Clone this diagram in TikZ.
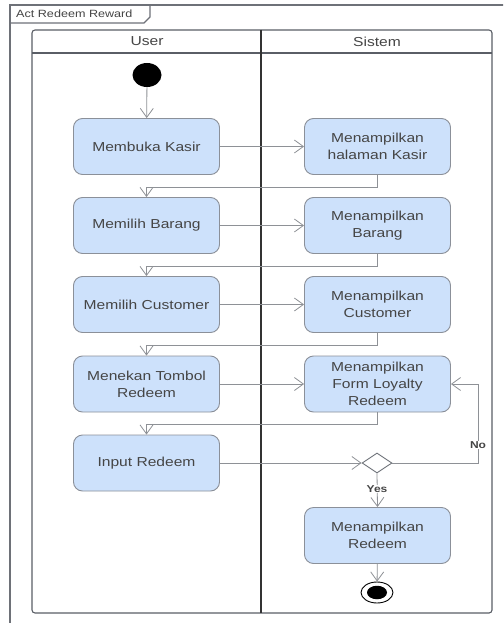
\documentclass[tikz,border=0pt]{standalone}
\usepackage{fontspec}
\setmainfont[FakeStretch=1.2]{Liberation Sans}
\usetikzlibrary{arrows.meta,shapes.geometric}
\definecolor{boxfill}{HTML}{CDE1FB}
\definecolor{boxline}{HTML}{8B9099}
\definecolor{lanecol}{HTML}{5A5E66}
\definecolor{framecol}{HTML}{6E7178}
\definecolor{flowcol}{HTML}{8E9196}
\definecolor{txt}{HTML}{454545}
\tikzset{
  act/.style={draw=boxline, fill=boxfill, rounded corners=9pt, line width=0.9pt,
    minimum width=146pt, minimum height=56pt, inner sep=0pt, align=center,
    text=txt, font=\fontsize{13}{16.8}\selectfont},
  flow/.style={draw=flowcol, line width=0.8pt, -{Straight Barb[length=9pt,width=13pt]}},
  lanehead/.style={text=txt, font=\fontsize{13}{15}\selectfont},
  guard/.style={fill=white, inner sep=1pt, text=txt, font=\bfseries\fontsize{10}{12}\selectfont}
}
\begin{document}
\begin{tikzpicture}[x=1pt,y=-1pt]
\useasboundingbox (0,0) rectangle (503,623);
\clip (0,0) rectangle (503,623);
\fill[white] (0,0) rectangle (503,623);

% diagram frame with its name tab
\draw[framecol, line width=1.2pt] (10,640) -- (10,5) -- (520,5);
\draw[framecol, line width=1.2pt] (10,23) -- (144,23) -- (150,17) -- (150,5);
\node[anchor=west, text=txt, font=\fontsize{10.5}{12}\selectfont, inner sep=0pt] (title) at (16,14) {Act Redeem Reward};

% swimlanes
\draw[lanecol, line width=1.1pt, rounded corners=3pt] (32,30) rectangle (492,613);
\draw[lanecol, line width=1.1pt] (32,53) -- (492,53);
\draw[black!80, line width=1.1pt] (261,30) -- (261,613);
\node[lanehead] (userlane) at (147,41.5) {User};
\node[lanehead] (syslane) at (377,41.5) {Sistem};

% activities
\node[ellipse, fill=black, minimum width=29pt, minimum height=24pt, inner sep=0pt] (start) at (147,75) {};
\node[act] (a1) at (146.5,146.5) {Membuka Kasir};
\node[act] (b1) at (377.5,146.5) {Menampilkan\\halaman Kasir};
\node[act] (a2) at (146.5,225.5) {Memilih Barang};
\node[act] (b2) at (377.5,225.5) {Menampilkan\\Barang};
\node[act] (a3) at (146.5,304.5) {Memilih Customer};
\node[act] (b3) at (377.5,304.5) {Menampilkan\\Customer};
\node[act] (a4) at (146.5,384) {Menekan Tombol\\Redeem};
\node[act] (b4) at (377.5,384) {Menampilkan\\Form Loyalty\\Redeem};
\node[act] (a5) at (146.5,463) {Input Redeem};
\node[diamond, draw=boxline!80!black, fill=white, line width=0.9pt, minimum width=30pt, minimum height=20pt, inner sep=0pt] (dec) at (377,463) {};
\node[act] (b5) at (377.5,535.5) {Menampilkan\\Redeem};
\node[ellipse, draw=black, line width=0.9pt, fill=white, minimum width=32pt, minimum height=21pt, inner sep=0pt] (stop) at (377,592.5) {};
\node[ellipse, fill=black, minimum width=20pt, minimum height=13.5pt, inner sep=0pt] (stopdot) at (stop.center) {};

% control flow
\draw[flow] (start) -- (a1);
\draw[flow] (a1) -- (b1);
\draw[flow] (b1.south) -- ++(0,12) -| (a2.north);
\draw[flow] (a2) -- (b2);
\draw[flow] (b2.south) -- ++(0,12) -| (a3.north);
\draw[flow] (a3) -- (b3);
\draw[flow] (b3.south) -- ++(0,12) -| (a4.north);
\draw[flow] (a4) -- (b4);
\draw[flow] (b4.south) -- ++(0,12) -| (a5.north);
\draw[flow] (a5) -- (dec);
\coordinate (loop) at (478,463);
\draw[flow] (dec.east) -- (loop) |- (b4.east);
\draw[flow] (dec.south) -- (b5.north);
\draw[flow] (b5) -- (stop);
\node[guard] (no) at (478,445) {No};
\node[guard] (yes) at (377,489) {Yes};
\end{tikzpicture}
\end{document}
